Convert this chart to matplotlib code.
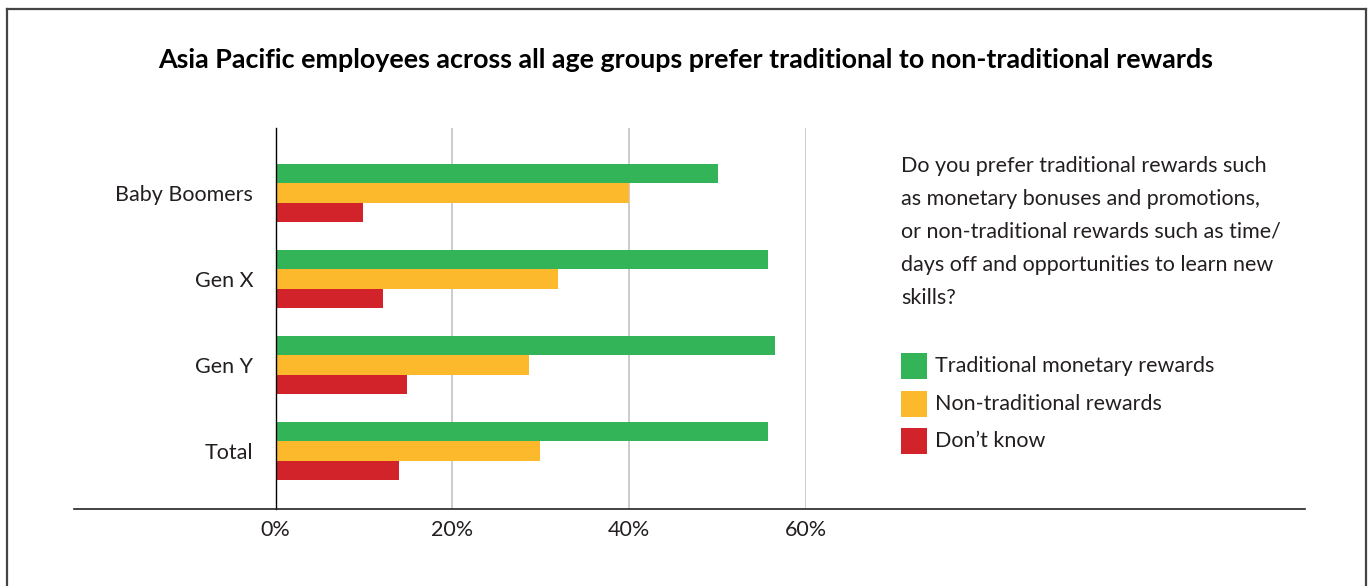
import matplotlib
matplotlib.use("Agg")
import matplotlib.pyplot as plt
from matplotlib.lines import Line2D
from matplotlib.patches import Rectangle
import numpy as np

plt.rcParams['font.family'] = ['Lato', 'DejaVu Sans']

# Data
groups = ["Baby Boomers", "Gen X", "Gen Y", "Total"]
series_names = ["Traditional monetary rewards", "Non-traditional rewards", "Don\u2019t know"]
traditional = [50, 55.7, 56.5, 55.7]
non_traditional = [40, 31.9, 28.6, 29.9]
dont_know = [9.9, 12.2, 14.9, 14.0]
xticks = [0, 20, 40, 60]
xtick_labels = ["0%", "20%", "40%", "60%"]

colors = ["#33b459", "#fdb92c", "#d2232a"]
text_color = "#231f20"
fs = 15.5

title = "Asia Pacific employees across all age groups prefer traditional to non-traditional rewards"
question = ("Do you prefer traditional rewards such\n"
            "as monetary bonuses and promotions,\n"
            "or non-traditional rewards such as time/\n"
            "days off and opportunities to learn new\n"
            "skills?")

W, H = 1371, 586
fig = plt.figure(figsize=(W / 100, H / 100), dpi=100)
fig.patch.set_facecolor("white")

# axes placed in pixel terms
x0, x1 = 275.5, 806.3
y_top, y_bot = 128, 509
ax = fig.add_axes([x0 / W, 1 - y_bot / H, (x1 - x0) / W, (y_bot - y_top) / H])

y = np.arange(len(groups))
h = 0.227
for i, vals in enumerate([traditional, non_traditional, dont_know]):
    ax.barh(y + (i - 1) * h, vals, height=h, color=colors[i], zorder=3)

ax.set_xlim(0, 60)
ax.set_ylim(3 + 0.674, -0.756)
ax.set_xticks(xticks)
ax.set_xticklabels(xtick_labels, fontsize=fs, color=text_color)
ax.set_yticks(y)
ax.set_yticklabels(groups, fontsize=fs, color=text_color)
ax.tick_params(axis="both", length=0)
ax.tick_params(axis="y", pad=16)
ax.tick_params(axis="x", pad=8)
ax.grid(axis="x", color="#c4c4c4", linewidth=1.2, zorder=0)
for s in ["top", "right", "bottom"]:
    ax.spines[s].set_visible(False)
ax.spines["left"].set_color("black")
ax.spines["left"].set_linewidth(1.0)
ax.spines["left"].set_zorder(4)

# bottom baseline across the figure
fig.add_artist(Line2D([74 / W, 1305 / W], [1 - 509 / H, 1 - 509 / H],
                      color="#222222", linewidth=1.2))

# frame border
fc = "#444444"
fig.add_artist(Line2D([7 / W, 7 / W], [0, 1 - 9 / H], color=fc, linewidth=1.6))
fig.add_artist(Line2D([7 / W, 1366 / W], [1 - 9 / H, 1 - 9 / H], color=fc, linewidth=1.6))
fig.add_artist(Line2D([1366 / W, 1366 / W], [0, 1 - 9 / H], color=fc, linewidth=1.6))

# title
fig.text(686 / W, 1 - 60 / H, title, ha="center", va="center",
         fontsize=19.4, fontweight="bold", color="black")

# question text
fig.text(901 / W, 1 - 156 / H, question, ha="left", va="top",
         fontsize=fs, color=text_color, linespacing=1.81)

# legend
leg_y = [366, 404, 441]
for name, c, yy in zip(series_names, colors, leg_y):
    fig.add_artist(Rectangle((901 / W, 1 - (yy + 13) / H), 26 / W, 26 / H,
                             facecolor=c, edgecolor="none", transform=fig.transFigure))
    fig.text(935 / W, 1 - yy / H, name, ha="left", va="center",
             fontsize=fs, color=text_color)

fig.savefig("out.png", dpi=100)
